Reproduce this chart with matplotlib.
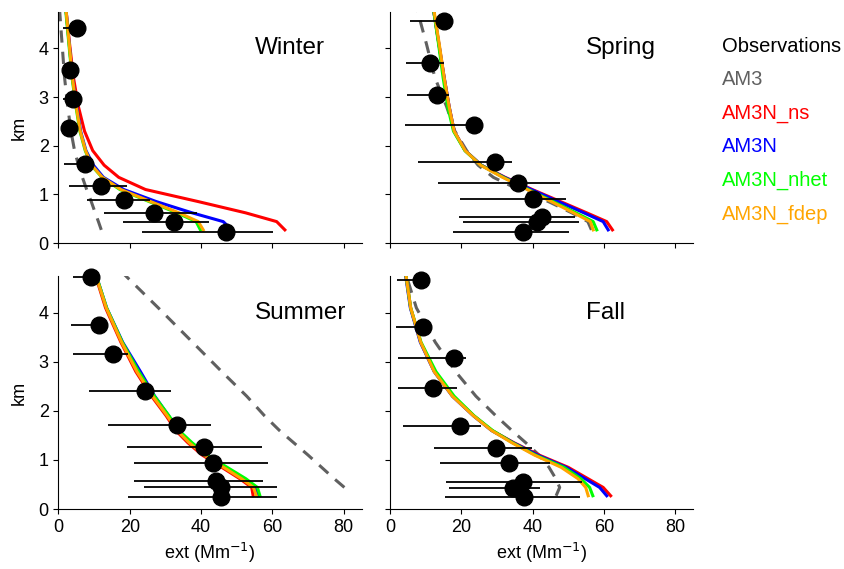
import numpy as np
import matplotlib
matplotlib.use('Agg')
import matplotlib.pyplot as plt

plt.rcParams['font.family'] = ['Liberation Sans', 'DejaVu Sans']

# model levels (km)
levels = [0.27, 0.44, 0.62, 0.85, 1.1, 1.35, 1.6, 1.9, 2.3, 2.8, 3.4, 4.1, 4.8]

# model extinction profiles (Mm-1)
winter_am3 = [12.0, 11.2, 10.3, 9.2, 7.9, 6.7, 5.6, 4.5, 3.5, 2.6, 1.7, 1.0, 0.3]
winter_ns = [63.5, 61.2, 52.5, 39.3, 24.4, 16.9, 12.8, 9.6, 7.3, 5.6, 4.2, 3.1, 2.1]
winter_am3n = [48.6, 46.2, 37.5, 27.5, 18.3, 12.6, 9.8, 7.7, 6.2, 5.1, 3.9, 3.0, 2.1]
winter_nhet = [39.8, 38.6, 33.2, 25.5, 17.2, 12.2, 9.2, 7.5, 6.0, 4.9, 3.8, 2.9, 2.0]
winter_fdep = [40.6, 39.2, 33.8, 25.9, 17.5, 12.3, 9.3, 7.6, 6.1, 5.0, 3.9, 3.0, 2.1]

spring_am3 = [56.5, 55.5, 51.0, 44.5, 36.0, 29.0, 24.7, 21.5, 18.2, 15.9, 12.6, 10.2, 7.6]
spring_ns = [62.4, 60.8, 55.2, 47.9, 39.9, 32.3, 25.6, 21.1, 18.0, 16.6, 15.2, 13.7, 12.2]
spring_am3n = [61.2, 59.8, 54.4, 47.3, 39.6, 32.1, 25.6, 21.1, 18.0, 16.6, 15.2, 13.7, 12.2]
spring_nhet = [58.0, 57.0, 52.2, 45.8, 38.8, 31.8, 25.5, 21.0, 17.8, 16.2, 14.9, 13.6, 12.2]
spring_fdep = [57.0, 56.2, 51.5, 45.3, 38.5, 31.6, 25.4, 21.1, 18.0, 16.6, 15.2, 13.8, 12.3]

summer_am3 = [None, 80.2, 77.3, 73.8, 70.0, 66.0, 62.0, 57.8, 52.8, 45.8, 37.6, 28.0, 18.2]
summer_ns = [54.6, 54.2, 50.8, 45.8, 40.3, 36.3, 32.9, 30.2, 26.1, 21.7, 17.5, 13.2, 10.2]
summer_am3n = [56.0, 55.2, 51.8, 46.6, 40.9, 36.9, 33.5, 30.9, 27.0, 23.0, 18.0, 13.5, 10.4]
summer_nhet = [56.5, 55.8, 52.5, 47.3, 41.7, 37.5, 33.8, 31.0, 26.9, 22.5, 17.9, 13.5, 10.4]
summer_fdep = [55.5, 54.7, 51.3, 46.3, 40.8, 36.7, 33.3, 30.5, 26.4, 22.0, 17.7, 13.4, 10.3]

fall_am3 = [46.6, 47.6, 46.5, 44.6, 41.8, 38.1, 34.2, 29.7, 24.1, 18.4, 12.7, 7.4, 4.4]
fall_ns = [61.9, 59.8, 55.5, 50.0, 41.8, 34.8, 28.6, 23.5, 17.6, 12.5, 8.6, 5.8, 4.4]
fall_am3n = [60.8, 58.8, 54.7, 49.4, 41.4, 34.6, 28.5, 23.4, 17.5, 12.4, 8.5, 5.7, 4.3]
fall_nhet = [56.9, 56.0, 53.5, 48.8, 40.8, 34.4, 28.8, 23.6, 18.0, 12.9, 8.7, 5.8, 4.4]
fall_fdep = [55.6, 54.9, 52.7, 48.0, 40.5, 34.2, 28.5, 23.4, 17.5, 12.4, 8.6, 5.8, 4.4]

# observations: altitude, mean, lower and upper range
winter_obs_y = [4.42, 3.55, 2.96, 2.36, 1.62, 1.17, 0.885, 0.61, 0.44, 0.23]
winter_obs_x = [5.1, 3.2, 4.0, 2.95, 7.4, 11.8, 18.4, 26.8, 32.4, 46.9]
winter_obs_lo = [1.35, 3.0, 1.3, 2.8, 1.5, 2.9, 8.1, 12.9, 18.2, 23.5]
winter_obs_hi = [6.5, 3.5, 6.0, 3.2, 9.0, 19.3, 25.7, 38.8, 42.3, 60.1]

spring_obs_y = [4.57, 3.70, 3.05, 2.43, 1.67, 1.23, 0.905, 0.53, 0.44, 0.23]
spring_obs_x = [15.1, 11.2, 13.3, 23.6, 29.5, 36.0, 40.2, 42.6, 41.3, 37.4]
spring_obs_lo = [5.6, 4.5, 4.9, 4.2, 7.9, 13.6, 19.6, 19.4, 20.6, 17.8]
spring_obs_hi = [16.5, 15.2, 16.6, 25.0, 34.3, 47.7, 49.3, 51.9, 53.0, 50.2]

summer_obs_y = [4.72, 3.75, 3.15, 2.40, 1.72, 1.27, 0.93, 0.58, 0.44, 0.24]
summer_obs_x = [9.0, 11.5, 15.2, 24.3, 33.3, 40.8, 43.4, 44.1, 45.5, 45.5]
summer_obs_lo = [4.2, 3.4, 4.2, 8.6, 14.0, 19.1, 21.3, 21.3, 24.1, 19.6]
summer_obs_hi = [10.5, 12.5, 19.6, 31.6, 42.8, 57.0, 58.7, 57.3, 61.4, 61.4]

fall_obs_y = [4.66, 3.71, 3.08, 2.46, 1.70, 1.24, 0.93, 0.56, 0.43, 0.24]
fall_obs_x = [8.7, 9.2, 18.0, 12.2, 19.6, 29.6, 33.3, 37.4, 34.4, 37.7]
fall_obs_lo = [2.0, 1.6, 2.3, 2.3, 3.7, 12.3, 14.0, 15.7, 16.6, 15.4]
fall_obs_hi = [9.5, 10.0, 21.3, 18.7, 25.5, 39.7, 44.9, 53.8, 42.1, 53.3]

seasons = ['Winter', 'Spring', 'Summer', 'Fall']
model_names = ['AM3', 'AM3N_ns', 'AM3N', 'AM3N_nhet', 'AM3N_fdep']
model_colors = ['#606060', 'red', 'blue', '#00ff00', 'orange']

models = {
    'Winter': [winter_am3, winter_ns, winter_am3n, winter_nhet, winter_fdep],
    'Spring': [spring_am3, spring_ns, spring_am3n, spring_nhet, spring_fdep],
    'Summer': [summer_am3, summer_ns, summer_am3n, summer_nhet, summer_fdep],
    'Fall': [fall_am3, fall_ns, fall_am3n, fall_nhet, fall_fdep],
}
obs = {
    'Winter': (winter_obs_y, winter_obs_x, winter_obs_lo, winter_obs_hi),
    'Spring': (spring_obs_y, spring_obs_x, spring_obs_lo, spring_obs_hi),
    'Summer': (summer_obs_y, summer_obs_x, summer_obs_lo, summer_obs_hi),
    'Fall': (fall_obs_y, fall_obs_x, fall_obs_lo, fall_obs_hi),
}

fig = plt.figure(figsize=(8.44, 5.69), dpi=100)
W, H = 844, 569
positions = {
    'Winter': (58.5, 12, 303, 231),
    'Spring': (390, 12, 303, 231),
    'Summer': (58.5, 276, 303, 233),
    'Fall': (390, 276, 303, 233),
}

for i, season in enumerate(seasons):
    x0, y0, w, h = positions[season]
    ax = fig.add_axes([x0 / W, 1 - (y0 + h) / H, w / W, h / H])

    lev = np.array(levels)
    for vals, name, color in zip(models[season], model_names, model_colors):
        v = np.array([np.nan if a is None else a for a in vals], dtype=float)
        if name == 'AM3':
            ax.plot(v, lev, color=color, lw=2.2, ls=(0, (4, 3)), zorder=2)
        else:
            ax.plot(v, lev, color=color, lw=2.2, zorder=3)

    oy, ox, lo, hi = obs[season]
    ax.hlines(oy, lo, hi, color='black', lw=1.3, zorder=4)
    ax.plot(ox, oy, 'o', color='black', ms=12, zorder=5, clip_on=False)

    ax.set_xlim(0, 85)
    ax.set_ylim(0, 4.75)
    ax.set_xticks([0, 20, 40, 60, 80])
    ax.set_yticks([0, 1, 2, 3, 4])
    for side in ['top', 'right']:
        ax.spines[side].set_visible(False)
    ax.tick_params(direction='out', length=3.5, labelsize=13)
    ax.text(55, 4.0, season, fontsize=17.5, ha='left', va='center')

    if i < 2:
        ax.tick_params(labelbottom=False)
    else:
        ax.set_xlabel('ext (Mm$^{-1}$)', fontsize=13)
    if i % 2 == 1:
        ax.tick_params(labelleft=False)
    else:
        ax.set_ylabel('km', fontsize=13, labelpad=8)

legend_labels = ['Observations'] + model_names
legend_colors = ['black'] + model_colors
for k, (lab, col) in enumerate(zip(legend_labels, legend_colors)):
    fig.text(722 / W, 1 - (46 + 33.6 * k) / H, lab, color=col,
             fontsize=14.5, ha='left', va='center')

fig.savefig('out.png', dpi=100)
